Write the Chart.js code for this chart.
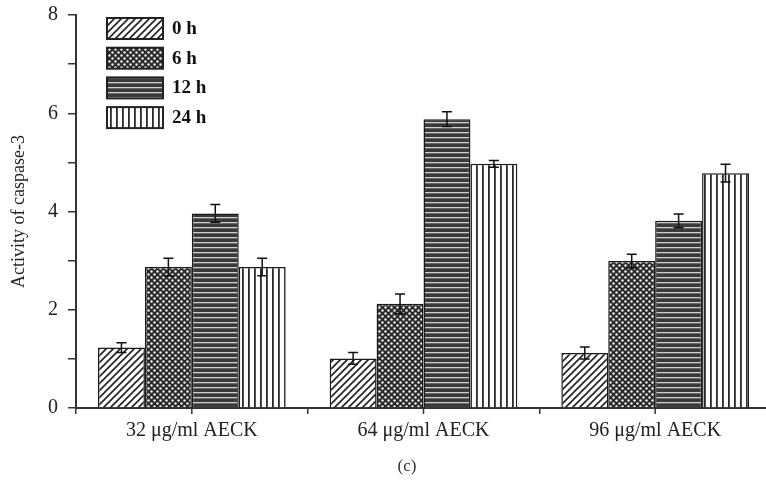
<!DOCTYPE html>
<html>
<head>
<meta charset="utf-8">
<script src="https://cdn.jsdelivr.net/npm/chart.js@4.4.1/dist/chart.umd.min.js"></script>
<style>
  html, body { margin: 0; padding: 0; background: #fff; overflow: hidden; }
  canvas { display: block; }
</style>
</head>
<body>
<canvas id="myChart" width="772" height="485"></canvas>
<script>
// data
const categories = ['32 μg/ml AECK', '64 μg/ml AECK', '96 μg/ml AECK'];
const seriesLabels = ['0 h', '6 h', '12 h', '24 h'];
const h0  = [1.23, 1.01, 1.12];
const h6  = [2.87, 2.12, 2.99];
const h12 = [3.96, 5.88, 3.81];
const h24 = [2.87, 4.97, 4.78];
const err0  = [0.10, 0.12, 0.12];
const err6  = [0.18, 0.20, 0.14];
const err12 = [0.18, 0.15, 0.14];
const err24 = [0.18, 0.07, 0.18];
const yTicks = [0, 2, 4, 6, 8];

const serif = "'Liberation Serif', 'DejaVu Serif', serif";

function makePattern(kind) {
  const c = document.createElement('canvas');
  const g = c.getContext('2d');
  if (kind === 'diag') {
    c.width = 7; c.height = 7;
    g.fillStyle = '#fff'; g.fillRect(0, 0, 7, 7);
    g.strokeStyle = '#222'; g.lineWidth = 1.6;
    g.beginPath();
    g.moveTo(-1, 8); g.lineTo(8, -1);
    g.moveTo(-8, 8); g.lineTo(1, -1);
    g.moveTo(6, 8); g.lineTo(15, -1);
    g.stroke();
  } else if (kind === 'dots') {
    c.width = 6; c.height = 6;
    g.fillStyle = '#2a2a2a'; g.fillRect(0, 0, 6, 6);
    g.fillStyle = '#f4f4f4';
    g.beginPath(); g.arc(1.5, 1.5, 1.2, 0, Math.PI * 2); g.fill();
    g.beginPath(); g.arc(4.5, 4.5, 1.2, 0, Math.PI * 2); g.fill();
  } else if (kind === 'horiz') {
    c.width = 4; c.height = 5;
    g.fillStyle = '#3a3a3a'; g.fillRect(0, 0, 4, 5);
    g.fillStyle = '#cfcfcf'; g.fillRect(0, 2, 4, 1.3);
  } else {
    c.width = 6; c.height = 4;
    g.fillStyle = '#fff'; g.fillRect(0, 0, 6, 4);
    g.fillStyle = '#2a2a2a'; g.fillRect(2, 0, 1.8, 4);
  }
  const ctx0 = document.getElementById('myChart').getContext('2d');
  return ctx0.createPattern(c, 'repeat');
}

const fills = [makePattern('diag'), makePattern('dots'), makePattern('horiz'), makePattern('vert')];
const values = [h0, h6, h12, h24];
const errors = [err0, err6, err12, err24];

const errorBars = {
  id: 'errorBars',
  afterDatasetsDraw(chart) {
    const ctx = chart.ctx, y = chart.scales.y;
    ctx.save();
    ctx.strokeStyle = '#111';
    ctx.lineWidth = 1.5;
    chart.data.datasets.forEach((ds, i) => {
      chart.getDatasetMeta(i).data.forEach((bar, j) => {
        const v = ds.data[j], e = errors[i][j];
        const yt = y.getPixelForValue(v + e), yb = y.getPixelForValue(v - e);
        ctx.beginPath();
        ctx.moveTo(bar.x, yt); ctx.lineTo(bar.x, yb);
        ctx.moveTo(bar.x - 5, yt); ctx.lineTo(bar.x + 5, yt);
        ctx.moveTo(bar.x - 5, yb); ctx.lineTo(bar.x + 5, yb);
        ctx.stroke();
      });
    });
    ctx.restore();
  }
};

// legend boxes drawn top-left inside plot, plus centre ticks and the (c) caption
const extras = {
  id: 'extras',
  afterDraw(chart) {
    const ctx = chart.ctx, x = chart.scales.x, area = chart.chartArea;
    ctx.save();
    ctx.strokeStyle = '#333'; ctx.lineWidth = 1.5;
    categories.forEach((c, i) => {
      const px = x.getPixelForValue(i);
      ctx.beginPath(); ctx.moveTo(px, area.bottom); ctx.lineTo(px, area.bottom + 6); ctx.stroke();
    });
    chart.data.datasets.forEach((ds, i) => {
      const bx = 107, by = 18 + i * 29.7;
      ctx.fillStyle = ds.backgroundColor;
      ctx.fillRect(bx, by, 56, 21);
      ctx.strokeStyle = '#222'; ctx.lineWidth = 2;
      ctx.strokeRect(bx, by, 56, 21);
      ctx.fillStyle = '#111';
      ctx.font = 'bold 19px ' + serif;
      ctx.textBaseline = 'middle';
      ctx.fillText(ds.label, bx + 65, by + 11);
    });
    ctx.fillStyle = '#333';
    ctx.font = '17px ' + serif;
    ctx.textAlign = 'center';
    ctx.textBaseline = 'middle';
    ctx.fillText('(c)', 407, 467);
    ctx.restore();
  }
};

new Chart(document.getElementById('myChart'), {
  type: 'bar',
  data: {
    labels: categories,
    datasets: seriesLabels.map((lab, i) => ({
      label: lab,
      data: values[i],
      backgroundColor: fills[i],
      borderColor: '#1a1a1a',
      borderWidth: 1.5,
      borderSkipped: 'bottom',
      categoryPercentage: 0.81,
      barPercentage: 1.0
    }))
  },
  options: {
    responsive: false,
    animation: false,
    layout: { padding: { top: 15, right: 1, left: 0, bottom: 0 } },
    plugins: { legend: { display: false }, tooltip: { enabled: false } },
    scales: {
      x: {
        grid: { display: true, drawOnChartArea: false, drawTicks: true, tickLength: 6, offset: true, color: '#333', lineWidth: 1.5 },
        border: { color: '#333', width: 2 },
        ticks: { color: '#222', font: { family: serif, size: 20 }, padding: 5, maxRotation: 0 },
        afterFit(s) { s.height = 77; }
      },
      y: {
        min: 0, max: 8,
        grid: { display: true, drawOnChartArea: false, drawTicks: true, tickLength: 8, color: '#333', lineWidth: 1.5 },
        border: { color: '#333', width: 2 },
        ticks: {
          stepSize: 1,
          color: '#222',
          padding: 10,
          font: { family: serif, size: 20 },
          callback: v => yTicks.includes(v) ? String(v) : ''
        },
        title: { display: true, text: 'Activity of caspase-3', color: '#222', font: { family: serif, size: 18 }, padding: { top: 8, bottom: 0 } },
        afterFit(s) { s.width = 76; s.paddingTop = 0; s.paddingBottom = 0; }
      }
    }
  },
  plugins: [errorBars, extras]
});
</script>
</body>
</html>
